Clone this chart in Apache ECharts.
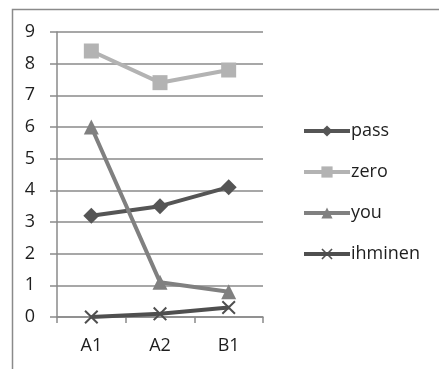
<!DOCTYPE html>
<html>
<head>
<meta charset="utf-8">
<script src="https://cdn.jsdelivr.net/npm/echarts@6/dist/echarts.min.js"></script>
<style>
html,body{margin:0;padding:0;background:#fff;}
#c{width:439px;height:369px;}
</style>
</head>
<body>
<div id="c"></div>
<script>
var categories = ['A1', 'A2', 'B1'];
var passValues = [3.2, 3.5, 4.1];
var zeroValues = [8.4, 7.4, 7.8];
var youValues = [6.0, 1.1, 0.8];
var ihminenValues = [0, 0.1, 0.3];
var seriesNames = ['pass', 'zero', 'you', 'ihminen'];

var FONT = '"Open Sans", sans-serif';
var xPath = 'path://M0,1 L1,0 L5,4 L9,0 L10,1 L6,5 L10,9 L9,10 L5,6 L1,10 L0,9 L4,5 Z';

function mk(name, data, color, symbol, size) {
  return {
    name: name, type: 'line', data: data,
    symbol: symbol, symbolSize: size,
    lineStyle: {color: color, width: 4},
    itemStyle: {color: color},
    emphasis: {disabled: true},
    animation: false
  };
}

var chart = echarts.init(document.getElementById('c'), null, {renderer: 'canvas'});
chart.setOption({
  backgroundColor: '#fff',
  animation: false,
  graphic: [{
    type: 'rect', left: 10, top: 7,
    shape: {width: 460, height: 400},
    style: {fill: 'none', stroke: '#8a8a8a', lineWidth: 1.5},
    silent: true
  }],
  grid: {left: 57, right: 176, top: 32, bottom: 52},
  legend: {
    orient: 'vertical', left: 297, top: 117,
    itemWidth: 46, itemHeight: 14, itemGap: 23,
    lineStyle: {width: 4},
    textStyle: {fontFamily: FONT, fontSize: 18, color: '#1e1e1e', padding: [0, 0, 0, -4]},
    data: seriesNames
  },
  xAxis: {
    type: 'category', data: categories, boundaryGap: true,
    axisLine: {lineStyle: {color: '#8a8a8a', width: 1.5}},
    axisTick: {show: true, length: 6, lineStyle: {color: '#8a8a8a', width: 1.5}},
    axisLabel: {fontFamily: FONT, fontSize: 18, color: '#1e1e1e', margin: 20}
  },
  yAxis: {
    type: 'value', min: 0, max: 9, interval: 1,
    axisLine: {show: true, lineStyle: {color: '#8a8a8a', width: 1.5}},
    axisTick: {show: true, length: 7, lineStyle: {color: '#8a8a8a', width: 1.5}},
    splitLine: {lineStyle: {color: '#8a8a8a', width: 1.5}},
    axisLabel: {fontFamily: FONT, fontSize: 18, color: '#1e1e1e', margin: 22}
  },
  series: [
    mk('pass', passValues, '#555555', 'diamond', 16),
    mk('zero', zeroValues, '#b3b3b3', 'rect', 15),
    mk('you', youValues, '#808080', 'triangle', 15),
    mk('ihminen', ihminenValues, '#4f4f4f', xPath, 14)
  ]
});
</script>
</body>
</html>
